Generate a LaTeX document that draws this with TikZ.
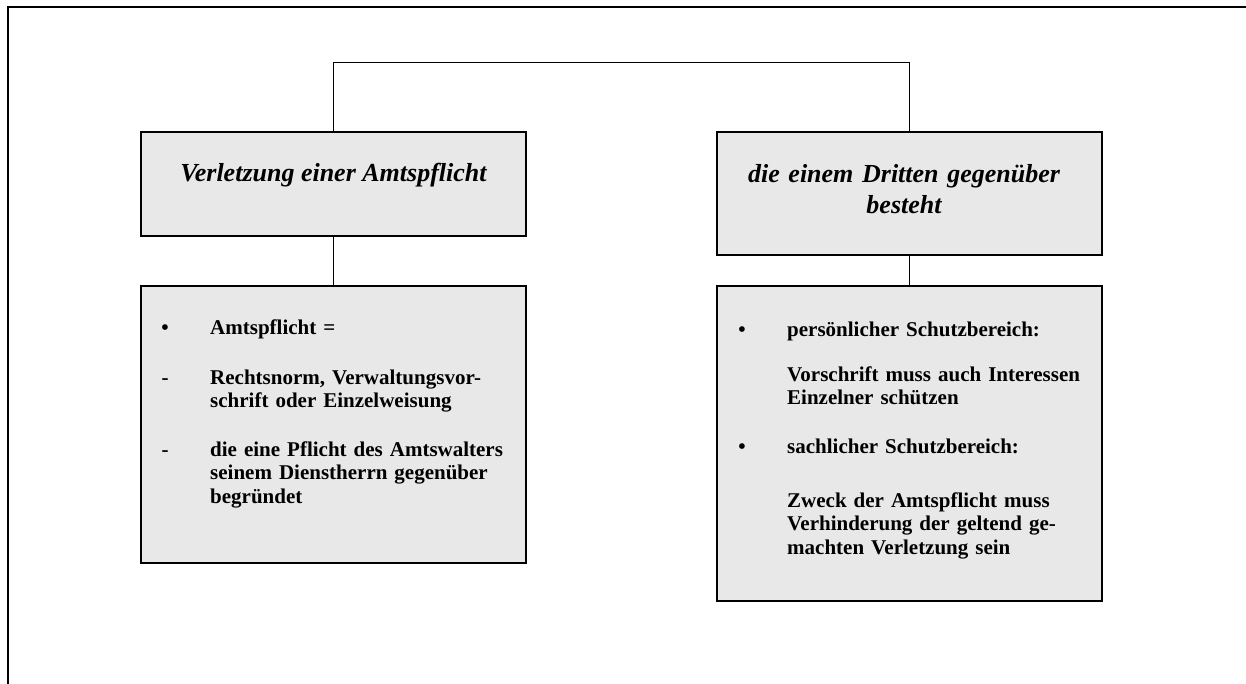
\documentclass[tikz,border=0pt]{standalone}
\usepackage{fontspec}
\setmainfont{Liberation Serif}
\definecolor{boxfill}{RGB}{232,232,232}
\begin{document}
\begin{tikzpicture}[x=1pt,y=-1pt,
  box/.style={draw=black,line width=1.3pt,fill=boxfill,inner sep=0pt},
  link/.style={draw=black,line width=1pt},
  headtxt/.style={font=\fontsize{26}{31}\selectfont\bfseries\itshape,inner sep=0pt},
  bodytxt/.style={font=\fontsize{21}{23.5}\selectfont\bfseries,inner sep=0pt,anchor=base west,text width=300pt,align=left},
  marker/.style={font=\fontsize{21}{24}\selectfont\bfseries,inner sep=0pt,anchor=base}]
  \useasboundingbox (0,0) rectangle (1246,684);
  % page frame
  \draw[line width=2pt] (8,684) -- (8,7) -- (1246,7);

  % boxes
  \node[box,minimum width=385pt,minimum height=104pt] (hl) at (333.5,184) {};
  \node[box,minimum width=385pt,minimum height=123pt] (hr) at (909.5,193.5) {};
  \node[box,minimum width=385pt,minimum height=277pt] (bl) at (333.5,424.5) {};
  \node[box,minimum width=385pt,minimum height=315pt] (br) at (909.5,443.5) {};

  % connectors
  \coordinate (bar) at (0,63);
  \draw[link] (hl.north) -- (hl.north |- bar) -| (hr.north);
  \draw[link] (hl.south) -- (bl.north);
  \draw[link] (hr.south) -- (br.north);

  % headings
  \node[headtxt,anchor=base] (hlt) at (333.5,182) {Verletzung einer Amtspflicht};
  \node[headtxt,anchor=base,text width=370pt,align=center] (hrt) at (904,183)
    {die einem Dritten gegenüber\\besteht};

  % left list
  \node[marker] (lb1) at (165,334) {\textbullet};
  \node[bodytxt] (lt1) at (210,334) {Amtspflicht =};
  \node[marker] (lb2) at (165,384) {-};
  \node[bodytxt] (lt2) at (210,384) {Rechtsnorm, Verwaltungsvor-\\schrift oder Einzelweisung};
  \node[marker] (lb3) at (165,456) {-};
  \node[bodytxt] (lt3) at (210,456) {die eine Pflicht des Amtswalters\\seinem Dienstherrn gegenüber\\begründet};

  % right list
  \node[marker] (rb1) at (742,336) {\textbullet};
  \node[bodytxt] (rt1) at (787,336) {persönlicher Schutzbereich:};
  \node[bodytxt] (rt2) at (787,381) {Vorschrift muss auch Interessen\\Einzelner schützen};
  \node[marker] (rb2) at (742,453) {\textbullet};
  \node[bodytxt] (rt3) at (787,453) {sachlicher Schutzbereich:};
  \node[bodytxt] (rt4) at (787,507) {Zweck der Amtspflicht muss\\Verhinderung der geltend ge-\\machten Verletzung sein};
\end{tikzpicture}
\end{document}
